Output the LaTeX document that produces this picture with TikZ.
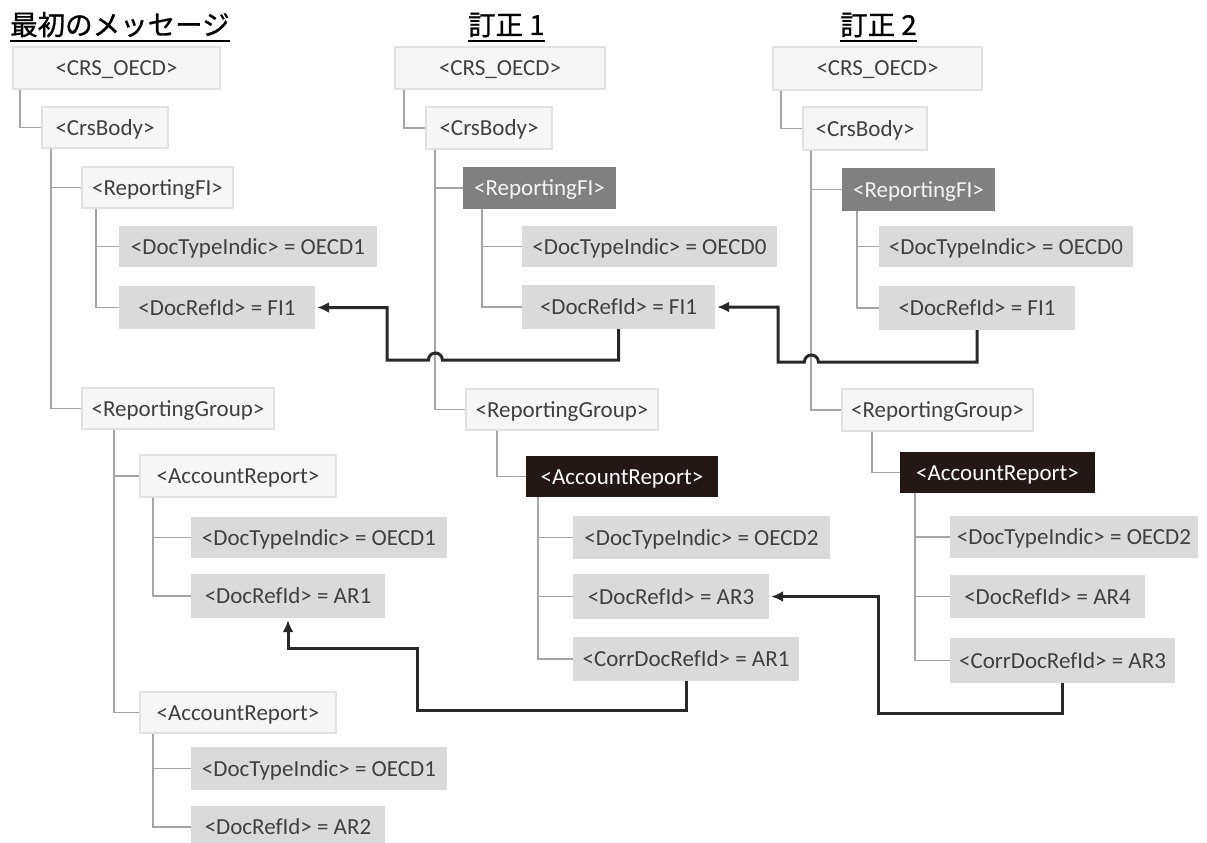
\documentclass[tikz,border=0pt]{standalone}
\usepackage{fontspec}
\setmainfont{Carlito}
\newfontfamily\jpfont[FakeBold=1]{Noto Sans CJK JP}
\usetikzlibrary{arrows.meta,calc}

\definecolor{treeline}{RGB}{165,165,165}
\definecolor{lightfill}{RGB}{246,246,246}
\definecolor{lightedge}{RGB}{226,226,226}
\definecolor{valfill}{RGB}{218,218,218}
\definecolor{darkfill}{RGB}{128,128,128}
\definecolor{blackfill}{RGB}{35,24,21}
\definecolor{txt}{RGB}{64,64,64}
\definecolor{refline}{RGB}{40,40,40}

\tikzset{
  box/.style={inner sep=0pt, text height=20pt, text depth=5pt,
    font=\fontsize{23}{27}\selectfont, text=txt},
  elem/.style={box, fill=lightfill, draw=lightedge, line width=1.2pt},
  val/.style={box, fill=valfill},
  chg/.style={box, fill=darkfill, text=white!92!gray},
  cur/.style={box, fill=blackfill, text=white},
  tree/.style={draw=treeline, line width=1.9pt},
  ref/.style={draw=refline, line width=3pt,
    -{Latex[length=12pt,width=11pt]}, shorten >=2pt},
  head/.style={font=\jpfont\fontsize{27.5}{30}\selectfont, inner sep=0pt,
    anchor=base west},
  uline/.style={line width=2pt},
}

% box from corner (x1,y1) to corner (x2,y2), y measured downwards
\newcommand\bx[7]{%
  \pgfmathsetmacro\bxcx{(#3+#5)/2}%
  \pgfmathsetmacro\bxcy{(#4+#6)/2}%
  \pgfmathsetmacro\bxw{#5-#3}%
  \pgfmathsetmacro\bxh{#6-#4}%
  \node[#1, minimum width=\bxw pt, minimum height=\bxh pt] (#2) at (\bxcx,\bxcy) {#7};}

\begin{document}
\begin{tikzpicture}[x=1pt,y=-1pt]
\useasboundingbox[fill=white] (0,0) rectangle (1207,843);

% headings
\node[head] (h1) at (10,35) {最初のメッセージ};
\node[head] (h2) at (468,35) {訂正 1};
\node[head] (h3) at (840,35) {訂正 2};
\foreach \h in {h1,h2,h3}
  \draw[uline] ([yshift=-6pt]\h.base west) -- ([yshift=-6pt]\h.base east);

% ---------- first message ----------
\bx{elem}{r1}{13}{47}{220}{89}{<CRS\_OECD>}
\bx{elem}{b1}{42}{107}{168}{148}{<CrsBody>}
\bx{elem}{f1}{82}{167}{233}{208}{<ReportingFI>}
\bx{val}{ft1}{119}{226}{377}{267}{<DocTypeIndic> = OECD1}
\bx{val}{fd1}{119}{286}{315}{329}{<DocRefId> = FI1}
\bx{elem}{g1}{82}{388}{274}{429}{<ReportingGroup>}
\bx{elem}{a1}{140}{455}{336}{497}{<AccountReport>}
\bx{val}{at1}{191}{517}{447}{558}{<DocTypeIndic> = OECD1}
\bx{val}{ad1}{191}{574}{385}{618}{<DocRefId> = AR1}
\bx{elem}{a2}{140}{692}{336}{733}{<AccountReport>}
\bx{val}{at2}{191}{747}{447}{790}{<DocTypeIndic> = OECD1}
\bx{val}{ad2}{191}{806}{385}{848}{<DocRefId> = AR2}

% ---------- correction 1 ----------
\bx{elem}{r2}{395}{47}{605}{89}{<CRS\_OECD>}
\bx{elem}{b2}{426}{107}{552}{149}{<CrsBody>}
\bx{chg}{f2}{463}{167}{616}{209}{<ReportingFI>}
\bx{val}{ft2}{522}{226}{777}{267}{<DocTypeIndic> = OECD0}
\bx{val}{fd2}{522}{285}{715}{329}{<DocRefId> = FI1}
\bx{elem}{g2}{466}{389}{658}{430}{<ReportingGroup>}
\bx{cur}{a3}{526}{456}{718}{497}{<AccountReport>}
\bx{val}{at3}{573}{516}{830}{559}{<DocTypeIndic> = OECD2}
\bx{val}{ad3}{573}{574}{769}{619}{<DocRefId> = AR3}
\bx{val}{cr3}{573}{637}{799}{681}{<CorrDocRefId> = AR1}

% ---------- correction 2 ----------
\bx{elem}{r3}{773}{47}{982}{90}{<CRS\_OECD>}
\bx{elem}{b3}{803}{107}{927}{150}{<CrsBody>}
\bx{chg}{f3}{842}{168}{995}{211}{<ReportingFI>}
\bx{val}{ft3}{879}{226}{1133}{267}{<DocTypeIndic> = OECD0}
\bx{val}{fd3}{879}{286}{1075}{330}{<DocRefId> = FI1}
\bx{elem}{g3}{842}{389}{1033}{431}{<ReportingGroup>}
\bx{cur}{a4}{900}{452}{1095}{493}{<AccountReport>}
\bx{val}{at4}{950}{516}{1198}{558}{<DocTypeIndic> = OECD2}
\bx{val}{ad4}{950}{575}{1145}{618}{<DocRefId> = AR4}
\bx{val}{cr4}{950}{638}{1175}{683}{<CorrDocRefId> = AR3}

% ---------- tree branches ----------
\draw[tree] ([xshift=8pt]r1.south west) |- (b1.west);
\draw[tree] ([xshift=10pt]b1.south west) |- (f1.west);
\draw[tree] ([xshift=10pt]b1.south west) |- (g1.west);
\draw[tree] ([xshift=15pt]f1.south west) |- (ft1.west);
\draw[tree] ([xshift=15pt]f1.south west) |- (fd1.west);
\draw[tree] ([xshift=33pt]g1.south west) |- (a1.west);
\draw[tree] ([xshift=33pt]g1.south west) |- (a2.west);
\draw[tree] ([xshift=14pt]a1.south west) |- (at1.west);
\draw[tree] ([xshift=14pt]a1.south west) |- (ad1.west);
\draw[tree] ([xshift=14pt]a2.south west) |- (at2.west);
\draw[tree] ([xshift=14pt]a2.south west) |- (ad2.west);

\draw[tree] ([xshift=10pt]r2.south west) |- (b2.west);
\draw[tree] ([xshift=10pt]b2.south west) |- (f2.west);
\draw[tree] ([xshift=10pt]b2.south west) |- (g2.west);
\draw[tree] ([xshift=19pt]f2.south west) |- (ft2.west);
\draw[tree] ([xshift=19pt]f2.south west) |- (fd2.west);
\draw[tree] ([xshift=32pt]g2.south west) |- (a3.west);
\draw[tree] ([xshift=12pt]a3.south west) |- (at3.west);
\draw[tree] ([xshift=12pt]a3.south west) |- (ad3.west);
\draw[tree] ([xshift=12pt]a3.south west) |- (cr3.west);

\draw[tree] ([xshift=9pt]r3.south west) |- (b3.west);
\draw[tree] ([xshift=9pt]b3.south west) |- (f3.west);
\draw[tree] ([xshift=9pt]b3.south west) |- (g3.west);
\draw[tree] ([xshift=15pt]f3.south west) |- (ft3.west);
\draw[tree] ([xshift=15pt]f3.south west) |- (fd3.west);
\draw[tree] ([xshift=31pt]g3.south west) |- (a4.west);
\draw[tree] ([xshift=15pt]a4.south west) |- (at4.west);
\draw[tree] ([xshift=15pt]a4.south west) |- (ad4.west);
\draw[tree] ([xshift=15pt]a4.south west) |- (cr4.west);

% ---------- reference connectors ----------
\coordinate (v2) at ([xshift=10pt]b2.south west);
\coordinate (v3) at ([xshift=9pt]b3.south west);
\coordinate (yA) at (0,360);
\coordinate (yB) at (0,362);
\coordinate (jA) at (v2 |- yA);
\coordinate (jB) at (v3 |- yB);
\coordinate (kA) at (387,360);
\coordinate (kB) at (778,362);
\coordinate (c1) at (417,710);
\coordinate (c2) at (417,648);
\coordinate (d1) at (878,713);

\draw[ref] (fd2.south) |- ([xshift=7pt]jA)
  arc[start angle=0, end angle=180, radius=7pt] -- (kA) |- (fd1.east);
\draw[ref] (fd3.south) |- ([xshift=7pt]jB)
  arc[start angle=0, end angle=180, radius=7pt] -- (kB) |- (fd2.east);
\draw[ref] (cr3.south) |- (c1) -- (c2) -| (ad1.south);
\draw[ref] (cr4.south) |- (d1) |- (ad3.east);
\end{tikzpicture}
\end{document}
